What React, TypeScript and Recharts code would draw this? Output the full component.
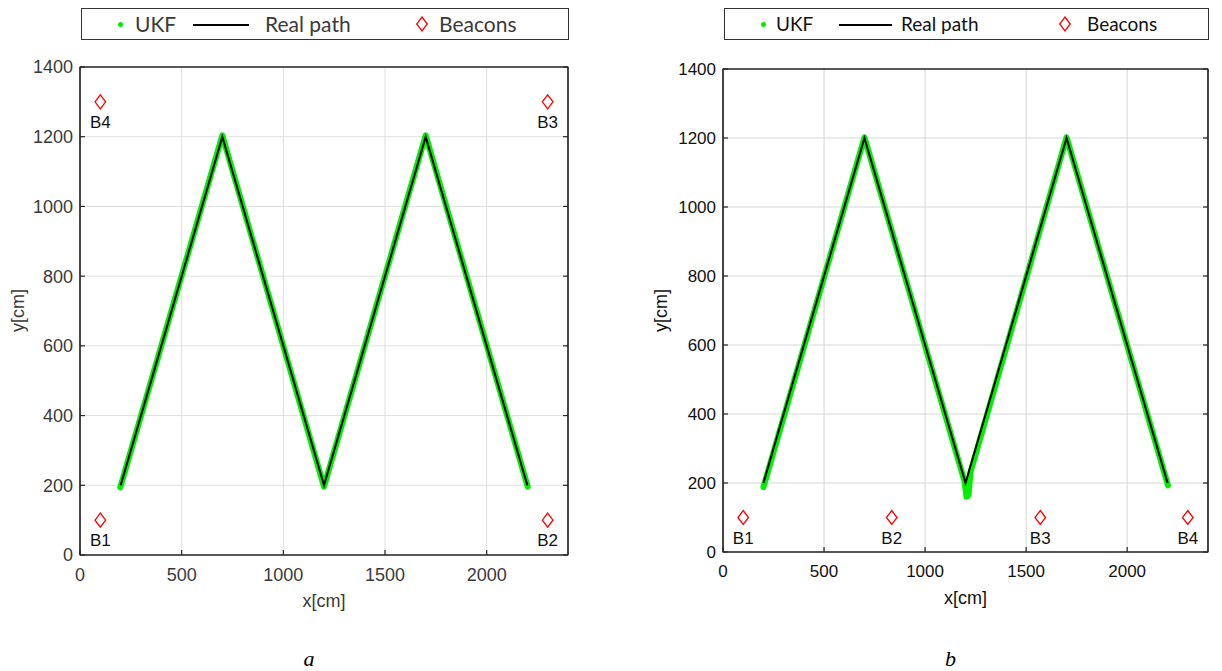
import React from "react";
import { CartesianGrid, ComposedChart, Line, ReferenceArea, Scatter, XAxis, YAxis } from "recharts";

const xTicks = [0, 500, 1000, 1500, 2000];
const yTicks = [0, 200, 400, 600, 800, 1000, 1200, 1400];

const realPath = [
  { x: 200, y: 200 },
  { x: 700, y: 1200 },
  { x: 1200, y: 200 },
  { x: 1700, y: 1200 },
  { x: 2200, y: 200 },
];

const ukfPathA = [
  { x: 198, y: 194 },
  { x: 700, y: 1204 },
  { x: 1200, y: 196 },
  { x: 1700, y: 1204 },
  { x: 2202, y: 196 },
];

const ukfPathB = [
  { x: 200, y: 188 },
  { x: 700, y: 1202 },
  { x: 1195, y: 205 },
  { x: 1205, y: 160 },
  { x: 1215, y: 165 },
  { x: 1225, y: 232 },
  { x: 1700, y: 1202 },
  { x: 2202, y: 193 },
];

const beaconsA = [
  { x: 100, y: 100, name: "B1" },
  { x: 2300, y: 100, name: "B2" },
  { x: 2300, y: 1300, name: "B3" },
  { x: 100, y: 1300, name: "B4" },
];

const beaconsB = [
  { x: 100, y: 100, name: "B1" },
  { x: 835, y: 100, name: "B2" },
  { x: 1570, y: 100, name: "B3" },
  { x: 2300, y: 100, name: "B4" },
];

const AXIS_FONT = "'Liberation Sans', Arial, sans-serif";
const LEGEND_FONT = "Lato, 'Open Sans', sans-serif";

function Diamond({ cx, cy }: { cx: number; cy: number }) {
  return (
    <path
      d={`M${cx},${cy - 7} L${cx + 5.3},${cy} L${cx},${cy + 7} L${cx - 5.3},${cy} Z`}
      fill="none"
      stroke="#ff0000"
      strokeWidth={1.3}
    />
  );
}

function BeaconShape(props: any) {
  const { cx, cy, payload } = props;
  return (
    <g>
      <Diamond cx={cx} cy={cy} />
      <text x={cx} y={cy + 26} textAnchor="middle" fontSize={17} fontFamily={AXIS_FONT} fill="#111">
        {payload.name}
      </text>
    </g>
  );
}

interface PanelProps {
  left: number;
  width: number;
  plotLeft: number;
  plotRight: number;
  plotTop: number;
  plotBottom: number;
  ukf: { x: number; y: number }[];
  beacons: { x: number; y: number; name: string }[];
  textColor: string;
  gridColor: string;
  caption: string;
  tickFont: number;
  labelFont: number;
  legendFont: number;
  legendLine: [number, number];
  ukfLeft: number;
  realLeft: number;
  beaconsLeft: number;
}

function Panel(p: PanelProps) {
  const height = 671;
  const yAxisW = 80;
  const xAxisH = 40;
  const margin = {
    top: p.plotTop - 1,
    left: p.plotLeft - p.left - yAxisW,
    right: p.left + p.width - p.plotRight - 1,
    bottom: height - p.plotBottom - xAxisH,
  };
  const tickStyle = { fill: p.textColor, fontSize: p.tickFont, fontFamily: AXIS_FONT };
  const noLabel = () => <g />;
  const boxLeft = p.plotLeft + 1;
  const boxW = p.plotRight - p.plotLeft - 2;
  return (
    <div style={{ position: "absolute", left: p.left, top: 0, width: p.width, height }}>
      <ComposedChart width={p.width} height={height} margin={margin}>
        <CartesianGrid stroke={p.gridColor} strokeWidth={1} />
        <XAxis
          type="number"
          dataKey="x"
          domain={[0, 2400]}
          ticks={xTicks}
          allowDataOverflow
          height={xAxisH}
          tickSize={-5}
          tickMargin={18}
          tick={tickStyle}
          stroke="#262626"
          strokeWidth={1.2}
        />
        <XAxis
          xAxisId="top"
          orientation="top"
          type="number"
          domain={[0, 2400]}
          ticks={xTicks}
          allowDataOverflow
          height={1}
          tickSize={-5}
          tick={noLabel}
          stroke="#262626"
          strokeWidth={1.2}
        />
        <YAxis
          type="number"
          dataKey="y"
          domain={[0, 1400]}
          ticks={yTicks}
          allowDataOverflow
          width={yAxisW}
          tickSize={-5}
          tickMargin={12}
          tick={tickStyle}
          stroke="#262626"
          strokeWidth={1.2}
        />
        <YAxis
          yAxisId="right"
          orientation="right"
          type="number"
          domain={[0, 1400]}
          ticks={yTicks}
          allowDataOverflow
          width={1}
          tickSize={-5}
          tick={noLabel}
          stroke="#262626"
          strokeWidth={1.2}
        />
        <ReferenceArea x1={0} x2={2400} y1={0} y2={1400} fill="none" stroke="#262626" strokeWidth={1.2} />
        <Line
          data={p.ukf}
          dataKey="y"
          type="linear"
          stroke="#00ee00"
          strokeWidth={6}
          strokeLinejoin="round"
          strokeLinecap="round"
          dot={false}
          isAnimationActive={false}
        />
        <Line
          data={realPath}
          dataKey="y"
          type="linear"
          stroke="#000000"
          strokeWidth={2}
          dot={false}
          isAnimationActive={false}
        />
        <Scatter data={p.beacons} dataKey="y" shape={BeaconShape} isAnimationActive={false} />
      </ComposedChart>

      {/* legend */}
      <div
        style={{
          position: "absolute",
          left: boxLeft - p.left,
          top: 8,
          width: boxW,
          height: 30,
          border: "1px solid #333",
          background: "#fff",
          fontFamily: LEGEND_FONT,
          fontSize: p.legendFont,
          color: p.textColor,
          lineHeight: "30px",
        }}
      >
        <span
          style={{
            position: "absolute",
            left: 36,
            top: 13,
            width: 5,
            height: 5,
            borderRadius: "50%",
            background: "#00ee00",
          }}
        />
        <span style={{ position: "absolute", left: p.ukfLeft, top: 0 }}>UKF</span>
        <span
          style={{
            position: "absolute",
            left: p.legendLine[0],
            width: p.legendLine[1] - p.legendLine[0],
            top: 15,
            height: 1.5,
            background: "#000",
          }}
        />
        <span style={{ position: "absolute", left: p.realLeft, top: 0 }}>Real path</span>
        <svg style={{ position: "absolute", left: 332, top: 6 }} width={16} height={18}>
          <Diamond cx={8} cy={9} />
        </svg>
        <span style={{ position: "absolute", left: p.beaconsLeft, top: 0 }}>Beacons</span>
      </div>

      {/* axis labels */}
      <div
        style={{
          position: "absolute",
          left: (p.plotLeft + p.plotRight) / 2 - p.left - 40,
          top: p.plotBottom + 36,
          width: 80,
          textAlign: "center",
          fontFamily: AXIS_FONT,
          fontSize: p.labelFont,
          color: p.textColor,
        }}
      >
        x[cm]
      </div>
      <div
        style={{
          position: "absolute",
          left: p.plotLeft - p.left - 62 - 40,
          top: (p.plotTop + p.plotBottom) / 2 - 11,
          width: 80,
          textAlign: "center",
          fontFamily: AXIS_FONT,
          fontSize: p.labelFont,
          color: p.textColor,
          transform: "rotate(-90deg)",
        }}
      >
        y[cm]
      </div>

      {/* caption */}
      <div
        style={{
          position: "absolute",
          left: (p.plotLeft + p.plotRight) / 2 - p.left - 20 - 15,
          top: 646,
          width: 40,
          textAlign: "center",
          fontFamily: "'Liberation Serif', 'Times New Roman', serif",
          fontStyle: "italic",
          fontSize: 22,
          color: "#000",
        }}
      >
        {p.caption}
      </div>
    </div>
  );
}

export default function App() {
  return (
    <div style={{ position: "absolute", left: 0, top: 0, width: 1222, height: 671, background: "#fff" }}>
      <Panel
        left={0}
        width={611}
        plotLeft={80}
        plotRight={568}
        plotTop={67}
        plotBottom={555}
        ukf={ukfPathA}
        beacons={beaconsA}
        textColor="#3a3a3a"
        gridColor="#e0e0e0"
        caption="a"
        tickFont={18}
        labelFont={18}
        legendFont={21}
        legendLine={[111, 167]}
        ukfLeft={53}
        realLeft={183}
        beaconsLeft={357}
      />
      <Panel
        left={611}
        width={611}
        plotLeft={723}
        plotRight={1208}
        plotTop={69}
        plotBottom={552}
        ukf={ukfPathB}
        beacons={beaconsB}
        textColor="#111111"
        gridColor="#d6d6d6"
        caption="b"
        tickFont={17}
        labelFont={18}
        legendFont={19}
        legendLine={[114, 167]}
        ukfLeft={51}
        realLeft={176}
        beaconsLeft={362}
      />
    </div>
  );
}
